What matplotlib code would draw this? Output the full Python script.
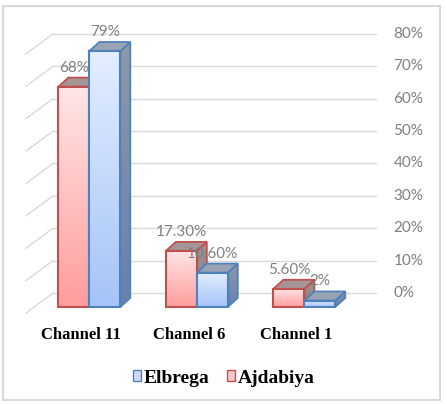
"""
3D-style clustered bar chart: channel usage in Elbrega and Ajdabiya.
"""
import numpy as np
import matplotlib
matplotlib.use("Agg")
import matplotlib.pyplot as plt
from matplotlib.patches import Rectangle, Polygon, Patch
from matplotlib.colors import LinearSegmentedColormap

categories = ["Channel 11", "Channel 6", "Channel 1"]
ajdabiya = [68, 17.3, 5.6]
elbrega = [79, 10.6, 2]
ajdabiya_labels = ["68%", "17.30%", "5.60%"]
elbrega_labels = ["79%", "10.60%", "2%"]
yticks = [0, 10, 20, 30, 40, 50, 60, 70, 80]

# geometry of the fake 3D (data units)
W = 0.288            # bar width
DX, DY = 0.093, 2.8  # bar depth offset
BACK_DY = 4.3        # back wall offset of gridlines
WALL_X0, WALL_X1 = -0.589, -0.338
GRID_X1 = 2.67

fig = plt.figure(figsize=(4.47, 4.04), dpi=100)
ax = fig.add_axes([0.0582, 0.2401, 0.7226, 0.6896])
ax.set_axis_off()

grid_c = "#D9D9D9"
for v in yticks:
    ax.plot([WALL_X1, GRID_X1], [v + BACK_DY, v + BACK_DY], color=grid_c, lw=1.0, zorder=1, clip_on=False)
    ax.plot([WALL_X0, WALL_X1], [v - 1.85, v + BACK_DY], color=grid_c, lw=1.0, zorder=1, clip_on=False)
    ax.text(2.83, v + BACK_DY, f"{v}%", ha="left", va="center", fontsize=11,
            family="Lato", color="#7F7F7F", clip_on=False)

grad = np.linspace(0, 1, 64).reshape(-1, 1)


def gradient_fill(patch, c_top, c_bot, extent, z):
    cmap = LinearSegmentedColormap.from_list("g", [c_top, c_bot])
    im = ax.imshow(grad, extent=extent, aspect="auto", cmap=cmap, origin="upper",
                   interpolation="bilinear", zorder=z)
    im.set_clip_path(patch)
    im.set_clip_on(True)


def bar3d(x0, v, front, top_c, side, edge, z):
    # side face
    side_pts = [(x0 + W, 0), (x0 + W + DX, DY), (x0 + W + DX, v + DY), (x0 + W, v)]
    sp = Polygon(side_pts, closed=True, fill=False, ec=edge, lw=1.3, zorder=z + 0.2, clip_on=False)
    ax.add_patch(sp)
    gradient_fill(sp, side[0], side[1], [x0 + W, x0 + W + DX, 0, v + DY], z)
    # top face
    top_pts = [(x0, v), (x0 + W, v), (x0 + W + DX, v + DY), (x0 + DX, v + DY)]
    ax.add_patch(Polygon(top_pts, closed=True, fc=top_c, ec=edge, lw=1.3, zorder=z + 0.2, clip_on=False))
    # front face
    fr = Rectangle((x0, 0), W, v, fill=False, ec=edge, lw=1.5, zorder=z + 0.4, clip_on=False)
    ax.add_patch(fr)
    gradient_fill(fr, front[0], front[1], [x0, x0 + W, 0, v], z + 0.3)


for i in range(len(categories)):
    bar3d(i - W, ajdabiya[i], ("#FFE6E6", "#FF9D9D"), "#A59595",
          ("#9A9494", "#8A8080"), "#C0504D", 2 + i)
    bar3d(i, elbrega[i], ("#E3EEFF", "#A5C4F7"), "#98A3B4",
          ("#8E98A8", "#6680AE"), "#4F81BD", 2.5 + i)

for i in range(len(categories)):
    ax.text(i - W / 2, ajdabiya[i] + 5.9, ajdabiya_labels[i], ha="center", va="center",
            fontsize=11, family="Lato", color="#7F7F7F", zorder=10, clip_on=False)
    ax.text(i + W / 2, elbrega[i] + 5.9, elbrega_labels[i], ha="center", va="center",
            fontsize=11, family="Lato", color="#7F7F7F", zorder=10, clip_on=False)
    ax.text(i - 0.075, -8.6, categories[i], ha="center", va="center", fontsize=12,
            family="Liberation Serif", weight="bold", color="black", clip_on=False)

ax.set_xlim(-0.589, 2.416)
ax.set_ylim(0, 86)

handles = [Patch(fc="#C9DAF8", ec="#4F81BD", lw=1.0),
           Patch(fc="#F8C6C6", ec="#C0504D", lw=1.0)]
fig.legend(handles, ["Elbrega", "Ajdabiya"], loc="center", bbox_to_anchor=(0.5, 0.064),
           ncol=2, frameon=False, handlelength=0.45, handleheight=0.45,
           handletextpad=0.1, columnspacing=0.9,
           prop={"family": "Liberation Serif", "weight": "bold", "size": 14})

fig.add_artist(Rectangle((3 / 447, 4 / 404), 437 / 447, 394 / 404, transform=fig.transFigure,
                         fill=False, ec="#D9D9D9", lw=1.5))

fig.savefig("out.png", dpi=100)
